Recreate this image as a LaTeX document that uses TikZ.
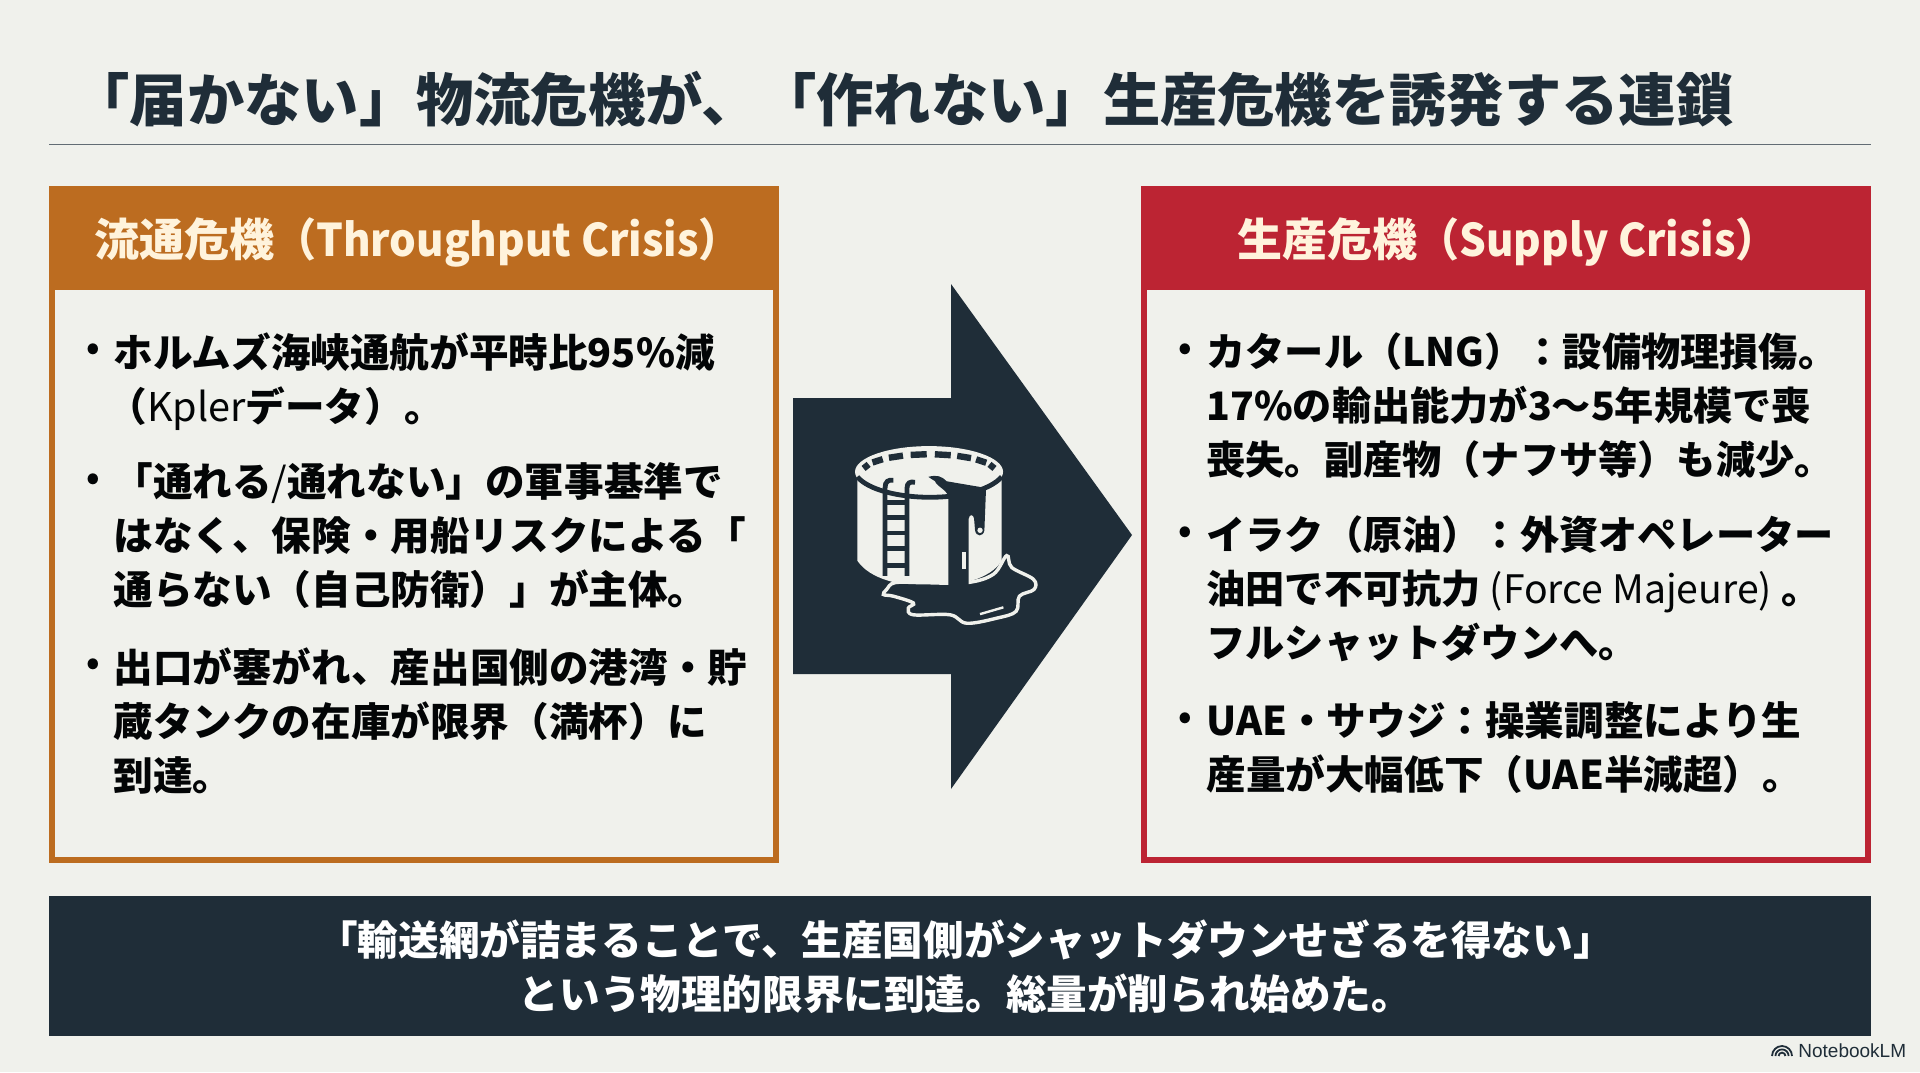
\documentclass[tikz,border=0pt]{standalone}
\usepackage{fontspec}
\setmainfont{Noto Sans CJK JP}
\newfontfamily\logofont{Liberation Sans}
\usepackage{tikz}
\definecolor{paper}{HTML}{F0F1EC}
\definecolor{ink}{HTML}{1F2D38}
\definecolor{amber}{HTML}{BC6C20}
\definecolor{crimson}{HTML}{BC2433}
\definecolor{cream}{HTML}{FFF3DC}
\newcommand{\slimlatin}[1]{{\addfontfeatures{FakeStretch=.935}#1}}
\tikzset{
  panelbox/.style={draw=#1,line width=3pt,fill=paper,minimum width=362pt,minimum height=335.5pt,anchor=north west,inner sep=0pt},
  headbox/.style={fill=#1,minimum width=365pt,minimum height=52pt,anchor=north west,inner sep=0pt,text height=21pt,text depth=3pt,text=cream,font=\fontsize{22.5}{27}\bfseries\selectfont},
  bodytext/.style={anchor=north west,align=left,inner sep=0pt,text=black!90!ink,font=\fontsize{19.8}{27}\bfseries\selectfont},
  sidetext/.style={bodytext,font=\fontsize{19.6}{27}\bfseries\selectfont},
  dotmark/.style={inner sep=0pt,text=black!90!ink,font=\fontsize{17}{27}\bfseries\selectfont}
}
\begin{document}
\begin{tikzpicture}[x=.5pt,y=-.5pt]
  \useasboundingbox[fill=paper] (0,0) rectangle (1920,1072);
  % title and rule
  \node[anchor=west,inner sep=0pt,text=ink,font=\fontsize{28.66}{32}\bfseries\selectfont] (title) at (72,99) {「届かない」物流危機が、「作れない」生産危機を誘発する連鎖};
  \draw[ink!70,line width=.5pt] (49,144) -- (1871,144);
  % two panels
  \node[panelbox=amber] (leftbox) at (49,186) {};
  \node[headbox=amber] (lefthead) at (49,186) {\hspace*{3pt}流通危機\slimlatin{（Throughput Crisis）}};
  \node[panelbox=crimson] (rightbox) at (1141,186) {};
  \node[headbox=crimson] (righthead) at (1141,186) {\hspace*{1pt}生産危機\slimlatin{（Supply Crisis）}};
  \foreach \y/\n in {352/a,482/b,667/c}{\node[dotmark] (dotl\n) at (93,\y) {•};}
  \foreach \y/\n in {352/a,535/b,721/c}{\node[dotmark] (dotr\n) at (1185,\y) {•};}
  \node[bodytext] (lefta) at (113,332) {ホルムズ海峡通航が平時比95\%減\\\hspace*{-3pt}（{\mdseries Kpler}データ）。};
  \node[bodytext] (leftb) at (113,462) {「通れる{\mdseries/}通れない」の軍事基準で\\はなく、保険・用船リスクによる「\\通らない（自己防衛）」が主体。};
  \node[bodytext] (leftc) at (113,647) {出口が塞がれ、産出国側の港湾・貯\\蔵タンクの在庫が限界（満杯）に\\到達。};
  \node[sidetext] (righta) at (1206,332) {カタール（LNG）：設備物理損傷。\\17\%の輸出能力が3〜5年規模で喪\\喪失。副産物（ナフサ等）も減少。};
  \node[sidetext] (rightb) at (1206,515) {イラク（原油）：外資オペレーター\\油田で不可抗力 {\mdseries (Force Majeure)} 。\\フルシャットダウンへ。};
  \node[bodytext] (rightc) at (1206,701) {UAE・サウジ：操業調整により生\\産量が大幅低下（UAE半減超）。};
  % big arrow
  \fill[ink] (793,398) -- (951,398) -- (951,284) -- (1132,535) -- (951,789) -- (951,674) -- (793,674) -- cycle;
  % tank icon
  \begin{scope}[shift={(780,270)},x=.1667pt,y=-.169pt]
    \fill[paper] (447,597) ellipse (222 and 76);
    \fill[paper] (232,600) -- (232,860) .. controls (270,915) and (360,935) .. (447,935) .. controls (540,935) and (630,915) .. (665,860) -- (665,600) -- cycle;
    \foreach \a in {18,38,58,78,99,120,141,162}{
      \draw[ink,line width=3.2pt] ({447+200*cos(\a-7)},{597-52*sin(\a-7)}) -- ({447+200*cos(\a+7)},{597-52*sin(\a+7)});
    }
    \draw[ink,line width=2.4pt] (232,612) .. controls (300,690) and (590,695) .. (665,612);
    % ladder
    \draw[ink,line width=2.4pt] (315,905) -- (315,645) .. controls (315,625) and (325,620) .. (340,622);
    \draw[ink,line width=2.4pt] (381,905) -- (381,645) .. controls (381,630) and (390,625) .. (405,628);
    \foreach \y in {688,732,778,824,874}{\draw[ink,line width=2.2pt] (315,\y) -- (381,\y);}
    % puddle
    \draw[paper,line width=1.7pt,fill=ink] plot[smooth cycle,tension=.6] coordinates {(320,945) (345,925) (430,925) (560,925) (640,900) (680,845) (695,880) (760,915) (762,945) (718,965) (708,1010) (650,1030) (560,1045) (510,1020) (400,1020) (385,1000) (400,985) (340,965) (310,960)};
    \draw[paper,line width=1.2pt] (600,1018) -- (670,998);
    % spill
    \fill[ink] (445,612) .. controls (470,605) and (485,610) .. (500,625) .. controls (540,632) and (590,640) .. (618,645) -- (613,770) .. controls (610,790) and (588,790) .. (585,770) -- (582,735) .. controls (580,722) and (568,722) .. (566,735) -- (566,960) -- (505,960) -- (505,670) .. controls (500,650) and (470,640) .. (465,625) -- cycle;
    \fill[paper] (546,835) rectangle (558,885);
    \fill[paper] (600,770) circle (8);
  \end{scope}
  % bottom banner
  \node[fill=ink,minimum width=911pt,minimum height=70pt,anchor=north west,inner sep=0pt,text=white,align=center,font=\fontsize{20.3}{27}\bfseries\selectfont] (banner) at (49,896) {\hspace*{5pt}「輸送網が詰まることで、生産国側がシャットダウンせざるを得ない」\\\hspace*{5pt}という物理的限界に到達。総量が削られ始めた。};
  % logo
  \foreach \r in {1.7,3.3,5}{\draw[ink,line width=.9pt] ({1782-2*\r},1056) arc[start angle=180,end angle=0,radius=\r pt];}
  \node[anchor=west,inner sep=0pt,text=ink,font=\logofont\fontsize{9.5}{11}\selectfont] (logo) at (1798,1051) {NotebookLM};
\end{tikzpicture}
\end{document}
